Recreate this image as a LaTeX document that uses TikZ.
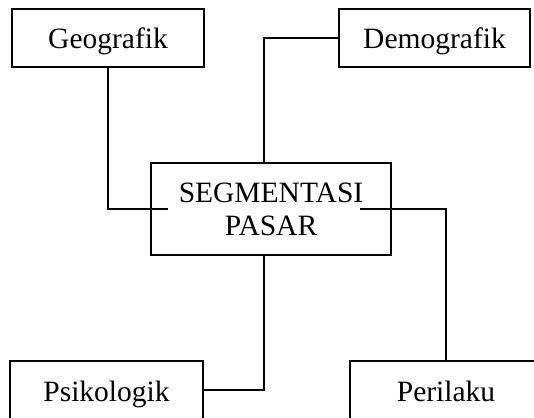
\documentclass[tikz,border=0pt]{standalone}
\usepackage{fontspec}
\setmainfont{Liberation Serif}
\begin{document}
\begin{tikzpicture}[x=1pt,y=-1pt,
  box/.style={draw,line width=1.3pt,inner sep=0pt,align=center,
    font=\fontsize{29.5}{33}\selectfont},
  single/.style={box,text height=26pt,text depth=4pt},
  link/.style={line width=1.3pt}]
\useasboundingbox (0,0) rectangle (534,417);
\clip (0,0) rectangle (534,417);
\node[single,minimum width=192pt,minimum height=58pt] (geo) at (108,38) {Geografik};
\node[single,minimum width=191pt,minimum height=58pt] (demo) at (434.5,38) {Demografik};
\node[box,minimum width=240pt,minimum height=92pt] (seg) at (271,209) {SEGMENTASI\\PASAR};
\node[single,minimum width=193pt,minimum height=58pt] (psi) at (106.5,390) {Psikologik};
\node[single,minimum width=192pt,minimum height=58pt] (per) at (446,390) {Perilaku};
\coordinate (gend) at (168,209);
\coordinate (pend) at (360,209);
\coordinate (dtop) at (264,163);
\coordinate (pbot) at (264,255);
\draw[link] (geo.south) |- (gend);
\draw[link] (demo.west) -| (dtop);
\draw[link] (psi.east) -| (pbot);
\draw[link] (per.north) |- (pend);
\end{tikzpicture}
\end{document}
